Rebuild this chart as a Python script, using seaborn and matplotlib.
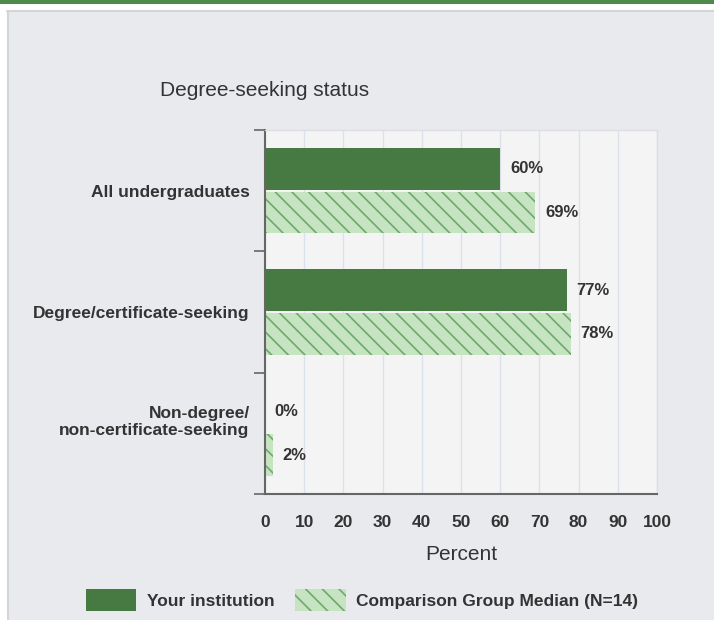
import pandas as pd
import numpy as np
import matplotlib.pyplot as plt
import matplotlib.transforms as mtransforms
import seaborn as sns
from matplotlib.patches import Rectangle, Patch

# data
categories = ["All undergraduates", "Degree/certificate-seeking", "Non-degree/\nnon-certificate-seeking"]
your_institution = [60, 77, 0]
comparison_median = [69, 78, 2]
series_names = ["Your institution", "Comparison Group Median (N=14)"]
x_ticks = [0, 10, 20, 30, 40, 50, 60, 70, 80, 90, 100]

dark_green = "#467a42"
light_green = "#c6e4c1"
hatch_green = "#6fa86b"
text_col = "#333333"
hatch_pat = "\\\\"

sns.set_theme(style="white")
plt.rcParams["font.family"] = ["Liberation Sans", "DejaVu Sans"]
plt.rcParams["hatch.color"] = hatch_green
plt.rcParams["hatch.linewidth"] = 1.2

df = pd.DataFrame({
    "category": categories * 2,
    "value": your_institution + comparison_median,
    "series": [series_names[0]] * 3 + [series_names[1]] * 3,
})

fig = plt.figure(figsize=(7.14, 6.2), dpi=100)
fig.patch.set_facecolor("#e9eaee")

# page decorations: green band on top, white strip, panel border
fig.patches.append(Rectangle((0, 1 - 4 / 620), 1, 4 / 620, transform=fig.transFigure,
                             facecolor="#4d8a4b", edgecolor="none", zorder=0))
fig.patches.append(Rectangle((0, 1 - 10 / 620), 1, 6 / 620, transform=fig.transFigure,
                             facecolor="white", edgecolor="none", zorder=0))
fig.patches.append(Rectangle((0, 0), 7 / 714, 1 - 10 / 620, transform=fig.transFigure,
                             facecolor="white", edgecolor="none", zorder=0))
fig.lines.append(plt.Line2D([7 / 714, 1], [1 - 11 / 620, 1 - 11 / 620], transform=fig.transFigure,
                            color="#d4d5d8", lw=1.5))
fig.lines.append(plt.Line2D([7.5 / 714, 7.5 / 714], [0, 1 - 11 / 620], transform=fig.transFigure,
                            color="#d4d5d8", lw=1.5))

ax = fig.add_axes([265 / 714, 1 - 494 / 620, 392 / 714, 364 / 620])
sns.barplot(data=df, x="value", y="category", hue="series", orient="h",
            palette=[dark_green, light_green], width=0.72, gap=0.04,
            saturation=1, legend=False, ax=ax)

containers = ax.containers
for bar in containers[0]:
    bar.set_edgecolor("none")
for bar in containers[1]:
    bar.set_hatch(hatch_pat)
    bar.set_edgecolor(hatch_green)
    bar.set_linewidth(0)

for cont, vals in zip(containers, [your_institution, comparison_median]):
    ax.bar_label(cont, labels=[f"{v}%" for v in vals], padding=7,
                 fontsize=12, fontweight="bold", color=text_col)

ax.set_facecolor("#f4f4f4")
ax.set_xlim(0, 100)
ax.set_ylim(2.5, -0.5)
ax.set_xticks(x_ticks)
ax.set_xticklabels([str(t) for t in x_ticks])
ax.grid(axis="x", color="#dbe1ea", lw=1)
ax.set_axisbelow(True)

ax.set_yticks(range(len(categories)))
ax.set_yticklabels(categories)
ax.set_yticks([-0.5, 0.5, 1.5, 2.5], minor=True)
ax.tick_params(axis="y", which="major", length=0, pad=11, labelsize=12.5, labelcolor=text_col)
ax.tick_params(axis="y", which="minor", left=True, length=8, width=1.2, color="#666666")
ax.tick_params(axis="x", which="major", length=0, pad=15, labelsize=12.5, labelcolor=text_col)
for lab in ax.get_yticklabels() + ax.get_xticklabels():
    lab.set_fontweight("bold")
for lab in ax.get_yticklabels():
    lab.set_multialignment("right")
# the two-line label sits a little higher in the reference
last = ax.get_yticklabels()[-1]
last.set_transform(last.get_transform() + mtransforms.ScaledTranslation(0, 14 / 100, fig.dpi_scale_trans))

for side in ["top", "right"]:
    ax.spines[side].set_color("#dcdee3")
    ax.spines[side].set_linewidth(1)
for side in ["left", "bottom"]:
    ax.spines[side].set_color("#666666")
    ax.spines[side].set_linewidth(1.5)

ax.set_ylabel("")
ax.set_xlabel("Percent", fontsize=15, color=text_col, labelpad=11)

fig.text(160 / 714, 1 - 90 / 620, "Degree-seeking status", fontsize=15, color=text_col,
         ha="left", va="center")

handles = [Patch(facecolor=dark_green, edgecolor="none"),
           Patch(facecolor=light_green, edgecolor=hatch_green, linewidth=0, hatch=hatch_pat)]
leg = fig.legend(handles, series_names, loc="center", bbox_to_anchor=(362 / 714, 1 - 600 / 620),
                 ncol=2, frameon=False, handlelength=2.9, handleheight=1.6, handletextpad=0.6,
                 columnspacing=1.2, prop={"size": 12.5, "weight": "bold"})
for t in leg.get_texts():
    t.set_color(text_col)

fig.savefig("out.png", dpi=100, facecolor=fig.get_facecolor())
